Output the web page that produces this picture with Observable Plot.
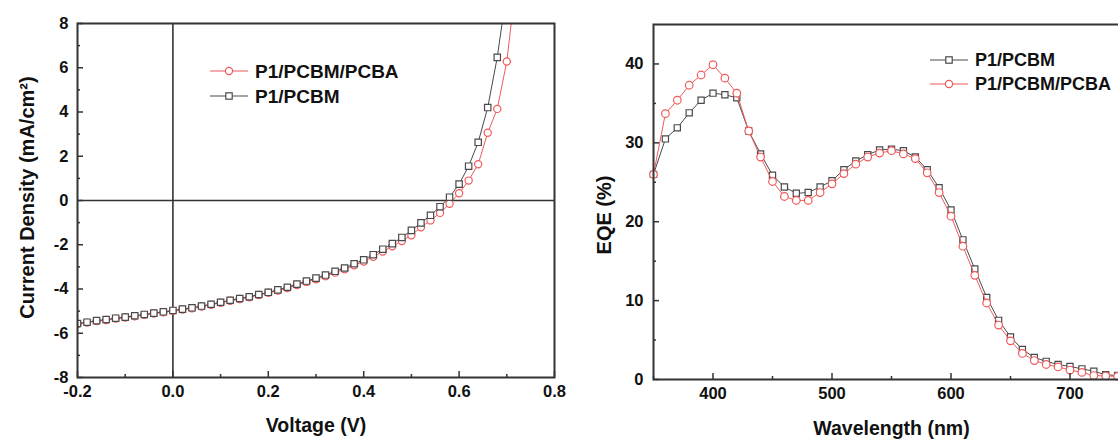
<!DOCTYPE html>
<html><head><meta charset="utf-8">
<script src="https://cdn.jsdelivr.net/npm/d3@7"></script>
<script src="https://cdn.jsdelivr.net/npm/@observablehq/plot@0.6"></script>
<style>
html,body{margin:0;padding:0;background:#fff;}
#wrap{position:relative;width:1118px;height:440px;overflow:hidden;background:#fff;font-family:"Liberation Sans",Arial,sans-serif;}
#left{position:absolute;left:0;top:0;width:575px;height:440px;}
#right{position:absolute;left:580px;top:0;width:560px;height:440px;}
#left svg,#right svg{max-width:none !important;display:block;}
#legend{position:absolute;left:0;top:0;pointer-events:none;}
</style></head><body>
<div id="wrap"><div id="left"></div><div id="right"></div><svg id="legend" width="1118" height="440"></svg></div>
<script>
// ---- Left panel: J–V curves ----
const voltage = [-0.20,-0.18,-0.16,-0.14,-0.12,-0.10,-0.08,-0.06,-0.04,-0.02,0.00,0.02,0.04,0.06,0.08,0.10,0.12,0.14,0.16,0.18,0.20,0.22,0.24,0.26,0.28,0.30,0.32,0.34,0.36,0.38,0.40,0.42,0.44,0.46,0.48,0.50,0.52,0.54,0.56,0.58,0.60,0.62,0.64,0.66,0.68,0.70,0.72];
const jPCBM = [-5.56,-5.50,-5.43,-5.38,-5.32,-5.27,-5.21,-5.15,-5.09,-5.03,-4.97,-4.91,-4.85,-4.77,-4.69,-4.60,-4.51,-4.43,-4.35,-4.25,-4.15,-4.04,-3.92,-3.78,-3.64,-3.51,-3.37,-3.20,-3.05,-2.86,-2.68,-2.45,-2.20,-1.95,-1.67,-1.35,-1.01,-0.67,-0.28,0.15,0.74,1.55,2.63,4.20,6.47,9.5,null];
const jPCBA = [-5.58,-5.52,-5.45,-5.40,-5.34,-5.29,-5.23,-5.17,-5.11,-5.05,-4.99,-4.93,-4.87,-4.79,-4.71,-4.62,-4.53,-4.45,-4.37,-4.27,-4.17,-4.07,-3.96,-3.82,-3.68,-3.56,-3.42,-3.26,-3.11,-2.93,-2.76,-2.54,-2.31,-2.07,-1.83,-1.57,-1.21,-0.90,-0.56,-0.15,0.33,0.90,1.64,3.06,4.14,6.28,10.0];
const voltageTicks = [-0.2,0,0.2,0.4,0.6,0.8];
const voltageMinor = [-0.1,0.1,0.3,0.5,0.7];
const currentTicks = [-8,-6,-4,-2,0,2,4,6,8];
const currentMinor = [-7,-5,-3,-1,1,3,5,7];

// ---- Right panel: EQE spectra ----
const wavelength = [350,360,370,380,390,400,410,420,430,440,450,460,470,480,490,500,510,520,530,540,550,560,570,580,590,600,610,620,630,640,650,660,670,680,690,700,710,720,730,740,750];
const eqePCBM = [26.0,30.5,31.9,33.8,35.4,36.3,36.1,35.7,31.5,28.6,25.9,24.4,23.6,23.7,24.4,25.2,26.6,27.7,28.5,29.1,29.2,29.0,28.2,26.6,24.3,21.5,17.7,14.0,10.4,7.5,5.4,3.8,2.8,2.3,1.9,1.65,1.35,1.05,0.6,0.5,0.4];
const eqePCBA = [26.0,33.7,35.4,37.3,38.6,39.9,38.2,36.3,31.5,28.2,25.1,23.2,22.7,22.7,23.7,24.8,26.1,27.3,28.2,28.7,29.0,28.6,28.0,26.2,23.7,20.7,16.9,13.2,9.7,6.9,4.9,3.3,2.4,1.9,1.6,1.2,0.9,0.5,0.45,0.4,0.3];
const wavelengthTicks = [400,500,600,700];
const wavelengthMinor = [350,450,550,650,750];
const eqeTicks = [0,10,20,30,40];
const eqeMinor = [5,15,25,35];

const seriesNames = ["P1/PCBM", "P1/PCBM/PCBA"];
const GRAY = "#4a4a4a", RED = "#ef5a5a", AXIS = "#333";

const jvPCBM = voltage.map((v,i) => ({v, j: jPCBM[i]})).filter(d => d.j != null);
const jvPCBA = voltage.map((v,i) => ({v, j: jPCBA[i]})).filter(d => d.j != null);
const eqA = wavelength.map((w,i) => ({w, e: eqePCBM[i]}));
const eqB = wavelength.map((w,i) => ({w, e: eqePCBA[i]}));

const style = {fontFamily: "'Liberation Sans', Arial, sans-serif", fontSize: "16.5px", fontWeight: "bold", color: "#111", background: "transparent", overflow: "visible", maxWidth: "none"};
const num = d => String(d);

// inward ticks: short rules at the bottom and left edges of the frame (fw, fh = frame size in px)
function inwardTicks(fw, fh, xTicks, xMinor, yTicks, yMinor) {
  const o = {stroke: AXIS, strokeWidth: 1.5};
  return [
    Plot.ruleX(xMinor, {...o, x: d => d, insetTop: fh - 3}),
    Plot.ruleX(xTicks, {...o, x: d => d, insetTop: fh - 6}),
    Plot.ruleY(yMinor, {...o, y: d => d, insetRight: fw - 3}),
    Plot.ruleY(yTicks, {...o, y: d => d, insetRight: fw - 6})
  ];
}

const left = Plot.plot({
  width: 575, height: 440, marginLeft: 77, marginRight: 21, marginTop: 23, marginBottom: 63,
  x: {domain: [-0.2, 0.8]}, y: {domain: [-8, 8]},
  style,
  marks: [
    Plot.ruleY([0], {stroke: AXIS, strokeWidth: 1.6}),
    Plot.ruleX([0], {stroke: AXIS, strokeWidth: 1.6}),
    Plot.line(jvPCBA, {x: "v", y: "j", stroke: RED, strokeWidth: 1, clip: true}),
    Plot.dot(jvPCBA, {x: "v", y: "j", symbol: "circle", r: 3.6, stroke: RED, fill: "white", strokeWidth: 1.2, clip: true}),
    Plot.line(jvPCBM, {x: "v", y: "j", stroke: GRAY, strokeWidth: 1, clip: true}),
    Plot.dot(jvPCBM, {x: "v", y: "j", symbol: "square", r: 3.6, stroke: GRAY, fill: "white", strokeWidth: 1.2, clip: true}),
    ...inwardTicks(477, 354, voltageTicks, voltageMinor, currentTicks, currentMinor),
    Plot.axisX({ticks: voltageTicks, tickSize: 0, tickPadding: 8, tickFormat: d => d.toFixed(1), label: null}),
    Plot.axisY({ticks: currentTicks, tickSize: 0, tickPadding: 9, tickFormat: num, label: null}),
    Plot.frame({stroke: AXIS, strokeWidth: 2}),
    Plot.text(["Voltage (V)"], {text: d => d, frameAnchor: "bottom", lineAnchor: "middle", textAnchor: "middle", dy: 48, fontSize: 19.5, fontWeight: "bold"}),
    Plot.text(["Current Density (mA/cm²)"], {text: d => d, frameAnchor: "left", rotate: -90, textAnchor: "middle", lineAnchor: "middle", dx: -50, dy: -3, fontSize: 20, fontWeight: "bold"})
  ]
});
document.getElementById("left").append(left);

const right = Plot.plot({
  width: 560, height: 440, marginLeft: 73, marginRight: 11, marginTop: 24, marginBottom: 61,
  x: {domain: [350, 750]}, y: {domain: [0, 45]},
  style,
  marks: [
    Plot.line(eqA, {x: "w", y: "e", stroke: GRAY, strokeWidth: 1}),
    Plot.dot(eqA, {x: "w", y: "e", symbol: "square", r: 3.5, stroke: GRAY, fill: "white", strokeWidth: 1.2}),
    Plot.line(eqB, {x: "w", y: "e", stroke: RED, strokeWidth: 1}),
    Plot.dot(eqB, {x: "w", y: "e", symbol: "circle", r: 3.8, stroke: RED, fill: "white", strokeWidth: 1.2}),
    ...inwardTicks(476, 355, wavelengthTicks, wavelengthMinor, eqeTicks, eqeMinor),
    Plot.axisX({ticks: wavelengthTicks, tickSize: 0, tickPadding: 8, tickFormat: num, label: null}),
    Plot.axisY({ticks: eqeTicks, tickSize: 0, tickPadding: 10, tickFormat: num, label: null}),
    Plot.frame({stroke: AXIS, strokeWidth: 2}),
    Plot.text(["Wavelength (nm)"], {text: d => d, frameAnchor: "bottom", lineAnchor: "middle", textAnchor: "middle", dy: 49, fontSize: 19.5, fontWeight: "bold"}),
    Plot.text(["EQE (%)"], {text: d => d, frameAnchor: "left", rotate: -90, textAnchor: "middle", lineAnchor: "middle", dx: -49, dy: 13, fontSize: 20, fontWeight: "bold"})
  ]
});
document.getElementById("right").append(right);

// ---- Legends (drawn inside each panel) ----
const lg = d3.select("#legend");
function legendRow(x0, y, name, color, symbol, fontSize) {
  lg.append("line").attr("x1", x0).attr("x2", x0 + 38).attr("y1", y).attr("y2", y)
    .attr("stroke", color).attr("stroke-width", 1.2);
  const cx = x0 + 19;
  if (symbol === "circle") {
    lg.append("circle").attr("cx", cx).attr("cy", y).attr("r", 3.6).attr("fill", "white").attr("stroke", color).attr("stroke-width", 1.2);
  } else {
    lg.append("rect").attr("x", cx - 3.2).attr("y", y - 3.2).attr("width", 6.4).attr("height", 6.4).attr("fill", "white").attr("stroke", color).attr("stroke-width", 1.2);
  }
  lg.append("text").attr("x", x0 + 45).attr("y", y).attr("dy", "0.36em")
    .attr("font-family", "'Liberation Sans', Arial, sans-serif").attr("font-weight", "bold")
    .attr("font-size", fontSize).attr("fill", "#111").text(name);
}
legendRow(210, 71, seriesNames[1], RED, "circle", 19);
legendRow(210, 96, seriesNames[0], GRAY, "square", 19);
legendRow(930, 60, seriesNames[0], GRAY, "square", 18);
legendRow(930, 84, seriesNames[1], RED, "circle", 18);
</script>
</body></html>
